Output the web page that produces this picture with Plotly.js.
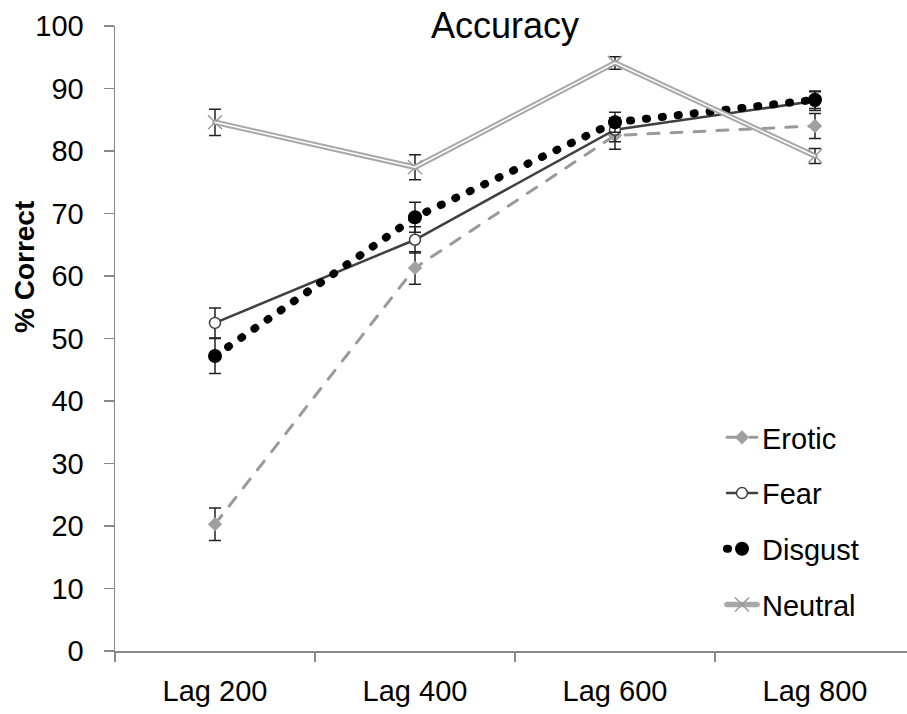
<!DOCTYPE html>
<html>
<head>
<meta charset="utf-8">
<script src="https://cdn.plot.ly/plotly-3.0.1.min.js"></script>
<style>
  html, body { margin: 0; padding: 0; background: #fff; }
  #chart { width: 907px; height: 714px; }
  path.js-line { stroke-linecap: round; }
</style>
</head>
<body>
<div id="chart"></div>
<script>
const categories = ['Lag 200', 'Lag 400', 'Lag 600', 'Lag 800'];

const erotic     = [20.3, 61.3, 82.5, 84.0];
const eroticErr  = [2.6, 2.6, 2.2, 2.0];

const fear       = [52.5, 65.8, 83.4, 88.0];
const fearErr    = [2.4, 2.1, 1.9, 1.5];

const disgust    = [47.2, 69.4, 84.6, 88.2];
const disgustErr = [2.8, 2.4, 1.6, 1.4];

const neutral    = [84.6, 77.4, 94.1, 79.2];
const neutralErr = [2.1, 2.0, 1.0, 1.2];

const yTicks = [0, 10, 20, 30, 40, 50, 60, 70, 80, 90, 100];

const FONT = '"Liberation Sans", Arial, sans-serif';

function errBar(arr) {
  return { type: 'data', array: arr, visible: true, color: '#222', thickness: 1.5, width: 6 };
}

const traces = [
  {
    name: 'Erotic', uid: 'erotic', legendgroup: 'g1',
    x: categories, y: erotic, type: 'scatter', mode: 'lines+markers',
    line: { color: '#9a9a9a', width: 3, dash: '11px,12px' },
    marker: { symbol: 'diamond', size: 11, color: '#a0a0a0' },
    error_y: errBar(eroticErr), cliponaxis: false
  },
  {
    name: 'Fear', uid: 'fear', legendgroup: 'g2',
    x: categories, y: fear, type: 'scatter', mode: 'lines+markers',
    line: { color: '#404040', width: 2.5 },
    marker: { symbol: 'circle', size: 11, color: '#ffffff', line: { color: '#404040', width: 1.5 } },
    error_y: errBar(fearErr), cliponaxis: false
  },
  {
    name: 'Disgust', uid: 'disgust', legendgroup: 'g3',
    x: categories, y: disgust, type: 'scatter', mode: 'lines+markers',
    line: { color: '#000000', width: 8, dash: '1px,15px' },
    marker: { symbol: 'circle', size: 14, color: '#000000' },
    error_y: errBar(disgustErr), cliponaxis: false
  },
  {
    name: 'Neutral', uid: 'neutral', legendgroup: 'g4',
    x: categories, y: neutral, type: 'scatter', mode: 'lines+markers',
    line: { color: '#a8a8a8', width: 5.5 },
    marker: { symbol: 'x-thin-open', size: 14, color: '#9a9a9a', line: { color: '#9a9a9a', width: 1.5 } },
    error_y: errBar(neutralErr), cliponaxis: false
  },
  {
    name: 'Neutral', uid: 'neutralinner', legendgroup: 'g4', showlegend: false,
    x: categories, y: neutral, type: 'scatter', mode: 'lines',
    line: { color: '#ffffff', width: 1.5 },
    hoverinfo: 'skip', cliponaxis: false
  }
];

const layout = {
  width: 907, height: 714,
  margin: { l: 115, r: 0, t: 26, b: 63 },
  paper_bgcolor: '#ffffff', plot_bgcolor: '#ffffff',
  font: { family: FONT, size: 29, color: '#000' },
  showlegend: true,
  title: {
    text: 'Accuracy',
    font: { family: FONT, size: 36, color: '#000' },
    xref: 'container', x: 505 / 907, xanchor: 'center',
    yref: 'container', y: 1 - 25 / 714, yanchor: 'middle'
  },
  xaxis: {
    type: 'category',
    range: [-0.5, 3.46],
    tickson: 'boundaries',
    ticks: 'outside', ticklen: 9, tickwidth: 1.5, tickcolor: '#888',
    showline: true, linecolor: '#888', linewidth: 1.5,
    showgrid: false, zeroline: false,
    tickfont: { family: FONT, size: 29, color: '#000' },
    ticklabelstandoff: 14
  },
  yaxis: {
    range: [0, 100],
    tickvals: yTicks,
    ticktext: yTicks.map(String),
    ticks: 'outside', ticklen: 10, tickwidth: 1.5, tickcolor: '#888',
    showline: true, linecolor: '#888', linewidth: 1.5,
    showgrid: false, zeroline: false,
    tickfont: { family: FONT, size: 29, color: '#000' },
    ticklabelstandoff: 14
  },
  legend: {
    x: (722 - 115) / 792, xanchor: 'left',
    y: (651 - 412) / 625, yanchor: 'top',
    traceorder: 'grouped', tracegroupgap: 15,
    bgcolor: 'rgba(0,0,0,0)',
    font: { family: FONT, size: 29, color: '#000' }
  },
  annotations: [
    {
      text: '<b>% Correct</b>', textangle: -90,
      xref: 'paper', yref: 'paper',
      x: (24 - 115) / 792, y: (651 - 267) / 625,
      xanchor: 'center', yanchor: 'middle',
      showarrow: false,
      font: { family: FONT, size: 28, color: '#000' }
    }
  ]
};

Plotly.newPlot('chart', traces, layout, { displayModeBar: false, staticPlot: true });
</script>
</body>
</html>
